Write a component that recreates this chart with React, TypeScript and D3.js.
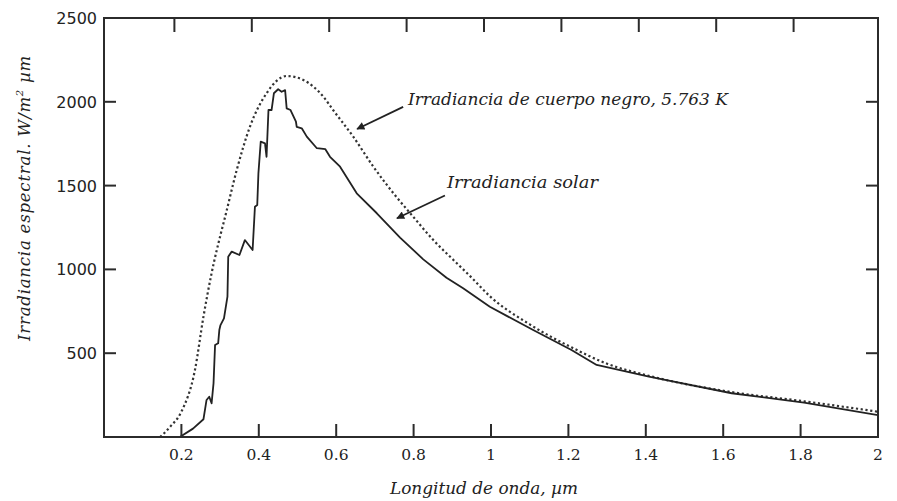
import React from "react";
import * as d3 from "d3";

// Solar irradiance (solid line), wavelength in µm and W/m²µm
const solarWavelength = [
  0.196, 0.23, 0.257, 0.265, 0.272, 0.278, 0.283, 0.287, 0.295, 0.298, 0.301, 0.31, 0.319, 0.321, 0.33,
  0.35, 0.364, 0.384, 0.39, 0.396, 0.399, 0.405, 0.416, 0.42, 0.425, 0.433, 0.439, 0.45, 0.459, 0.468,
  0.472, 0.482, 0.496, 0.498, 0.511, 0.524, 0.55, 0.572, 0.584, 0.61, 0.653, 0.705, 0.765, 0.825,
  0.885, 0.928, 0.997, 1.109, 1.208, 1.273, 1.408, 1.622, 1.809, 2.0,
];
const solarIrradiance = [
  0, 50, 106, 221, 240, 201, 320, 549, 559, 638, 668, 708, 837, 1076, 1106,
  1086, 1175, 1116, 1374, 1384, 1573, 1762, 1752, 1672, 1951, 1951, 2051, 2075, 2060, 2070,
  1961, 1951, 1881, 1851, 1842, 1792, 1723, 1717, 1672, 1613, 1454, 1335, 1190, 1060,
  950, 887, 777, 638, 519, 430, 360, 261, 205, 131,
];

// Black body irradiance at 5.763 K (dotted line)
const bbWavelength = [
  0.145, 0.171, 0.2, 0.235, 0.257, 0.278, 0.302, 0.313, 0.343, 0.377, 0.42, 0.472, 0.515, 0.567,
  0.592, 0.644, 0.696, 0.748, 0.799, 0.851, 0.903, 0.946, 0.997, 1.1, 1.208, 1.3, 1.408, 1.622, 1.809, 2.0,
];
const bbIrradiance = [
  0, 61, 151, 400, 718, 977, 1215, 1314, 1593, 1851, 2051, 2154, 2130, 2030,
  1951, 1792, 1613, 1454, 1314, 1175, 1056, 960, 840, 672, 535, 437, 365, 268, 213, 151,
];

const xTicks = [0.2, 0.4, 0.6, 0.8, 1, 1.2, 1.4, 1.6, 1.8, 2];
const xTickLabels = ["0.2", "0.4", "0.6", "0.8", "1", "1.2", "1.4", "1.6", "1.8", "2"];
const yTicks = [500, 1000, 1500, 2000, 2500];
const yTickLabels = ["500", "1000", "1500", "2000", "2500"];

const xTitle = "Longitud de onda, µm";
const yTitleMain = "Irradiancia espectral. W/m";
const yTitleSup = "2";
const yTitleEnd = " µm";
const annotationTexts = ["Irradiancia de cuerpo negro, 5.763 K", "Irradiancia solar"];
// annotation anchor points in data units: [textX, textY, arrowStartX, arrowStartY, arrowTipX, arrowTipY]
const annotationAnchors = [
  [0.7855, 1981, 0.773, 1970, 0.654, 1838],
  [0.8863, 1484, 0.881, 1441, 0.757, 1305],
];
const annotationLengths = [320, 151];

const W = 897;
const H = 501;
const LEFT = 104;
const RIGHT = 878;
const TOP = 18;
const BOTTOM = 437;

export default function App() {
  const x = d3.scaleLinear().domain([0, 2]).range([LEFT, RIGHT]);
  const y = d3.scaleLinear().domain([0, 2500]).range([BOTTOM, TOP]);

  const solarPts: [number, number][] = solarWavelength.map((w, i) => [w, solarIrradiance[i]]);
  const bbPts: [number, number][] = bbWavelength.map((w, i) => [w, bbIrradiance[i]]);

  const solarLine = d3
    .line<[number, number]>()
    .x((d) => x(d[0]))
    .y((d) => y(d[1]))
    .curve(d3.curveLinear)(solarPts) as string;

  const bbLine = d3
    .line<[number, number]>()
    .x((d) => x(d[0]))
    .y((d) => y(d[1]))
    .curve(d3.curveMonotoneX)(bbPts) as string;

  const axisColor = "#2b2b2b";
  const italicFont = "'DejaVu Serif', serif";

  return (
    <svg
      width={W}
      height={H}
      viewBox={`0 0 ${W} ${H}`}
      style={{ position: "fixed", left: 0, top: 0, background: "#fff" }}
    >
      <defs>
        <marker
          id="arrowhead"
          viewBox="0 0 10 10"
          refX="9"
          refY="5"
          markerWidth="11"
          markerHeight="8"
          markerUnits="userSpaceOnUse"
          orient="auto"
        >
          <path d="M0,0 L10,5 L0,10 z" fill="#222" />
        </marker>
        <clipPath id="plotclip">
          <rect x={LEFT} y={TOP} width={RIGHT - LEFT} height={BOTTOM - TOP} />
        </clipPath>
      </defs>
      <rect x={0} y={0} width={W} height={H} fill="#fff" />

      {/* data */}
      <g clipPath="url(#plotclip)">
        <path
          d={bbLine}
          fill="none"
          stroke="#333"
          strokeWidth={2.2}
          strokeDasharray="2.2,2.6"
        />
        <path d={solarLine} fill="none" stroke="#222" strokeWidth={1.8} strokeLinejoin="round" />
      </g>

      {/* frame */}
      <rect
        x={LEFT}
        y={TOP}
        width={RIGHT - LEFT}
        height={BOTTOM - TOP}
        fill="none"
        stroke={axisColor}
        strokeWidth={2}
      />

      {/* x ticks (bottom & top, inward) */}
      {xTicks.slice(0, -1).map((t) => (
        <g key={"xt" + t}>
          <line x1={x(t)} x2={x(t)} y1={BOTTOM} y2={BOTTOM - 13} stroke={axisColor} strokeWidth={2} />
          <line x1={x(t) - 7} x2={x(t) - 7} y1={TOP} y2={TOP + 14} stroke={axisColor} strokeWidth={2} />
        </g>
      ))}
      {xTicks.map((t, i) => (
        <text
          key={"xl" + t}
          x={x(t)}
          y={460}
          textAnchor="middle"
          fontFamily="'DejaVu Serif', serif"
          fontSize={15.5}
          fill="#222"
        >
          {xTickLabels[i]}
        </text>
      ))}

      {/* y ticks (left & right, inward) */}
      {yTicks.slice(0, -1).map((t) => (
        <g key={"yt" + t}>
          <line x1={LEFT} x2={LEFT + 12} y1={y(t)} y2={y(t)} stroke={axisColor} strokeWidth={2} />
          <line x1={RIGHT} x2={RIGHT - 12} y1={y(t)} y2={y(t)} stroke={axisColor} strokeWidth={2} />
        </g>
      ))}
      {yTicks.map((t, i) => (
        <text
          key={"yl" + t}
          x={97}
          y={y(t) + 6}
          textAnchor="end"
          fontFamily="'DejaVu Sans', sans-serif"
          fontSize={16}
          fill="#222"
        >
          {yTickLabels[i]}
        </text>
      ))}

      {/* axis titles */}
      <text
        x={484}
        y={494}
        textAnchor="middle"
        fontFamily={italicFont}
        fontStyle="italic"
        fontSize={16}
        fill="#222"
        textLength={188}
        lengthAdjust="spacingAndGlyphs"
      >
        {xTitle}
      </text>
      <text
        transform="translate(30,198) rotate(-90)"
        textAnchor="middle"
        fontFamily={italicFont}
        fontStyle="italic"
        fontSize={16.5}
        letterSpacing={0.8}
        fill="#222"
      >
        <tspan>{yTitleMain}</tspan>
        <tspan fontSize={10} dy={-7}>{yTitleSup}</tspan>
        <tspan dy={7}>{yTitleEnd}</tspan>
      </text>

      {/* annotations */}
      {annotationAnchors.map((a, i) => (
        <g key={"ann" + i}>
          <text
            x={x(a[0])}
            y={y(a[1])}
            fontFamily={italicFont}
            fontStyle="italic"
            fontSize={16}
            fill="#222"
            textLength={annotationLengths[i]}
            lengthAdjust="spacingAndGlyphs"
          >
            {annotationTexts[i]}
          </text>
          <line
            x1={x(a[2])}
            y1={y(a[3])}
            x2={x(a[4])}
            y2={y(a[5])}
            stroke="#222"
            strokeWidth={1.8}
            markerEnd="url(#arrowhead)"
          />
        </g>
      ))}
    </svg>
  );
}
